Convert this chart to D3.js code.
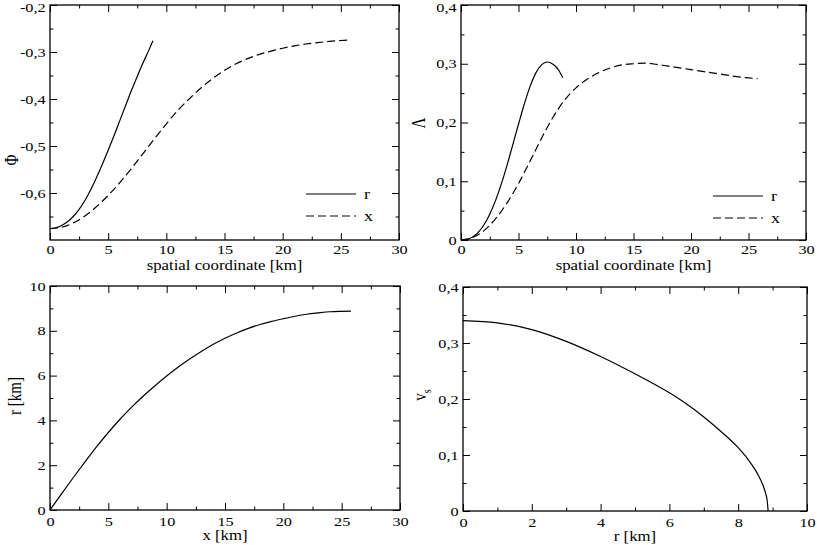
<!DOCTYPE html>
<html>
<head>
<meta charset="utf-8">
<script src="https://cdn.jsdelivr.net/npm/d3@7"></script>
<style>
  body { margin: 0; background: #fff; }
  svg text { font-family: "Liberation Serif", "Times New Roman", serif; fill: #000; }
</style>
</head>
<body>
<div id="chart"></div>
<script>
// Spatial coordinate grids [km] along r and along x.
var rGrid = [0, 0.5, 1, 1.5, 2, 2.5, 3, 3.5, 4, 4.5, 5, 5.5, 6, 6.5, 7, 7.5, 8, 8.5, 8.85];
var xGrid = [0, 1, 2, 3, 4, 5, 6, 7, 8, 9, 10, 11, 12, 13, 14, 15, 16, 17, 18, 19, 20,
  21, 22, 23, 24, 25, 25.8];

// Phi, read along r (solid) and along x (dashed).
var phiR = [-0.676, -0.674, -0.669, -0.661, -0.650, -0.635, -0.616, -0.593, -0.567, -0.539,
  -0.509, -0.478, -0.446, -0.414, -0.382, -0.352, -0.323, -0.296, -0.276];
var phiX = [-0.676, -0.673, -0.664, -0.649, -0.629, -0.605, -0.578, -0.548, -0.516, -0.484,
  -0.453, -0.424, -0.399, -0.376, -0.356, -0.339, -0.325, -0.314, -0.305, -0.298, -0.292,
  -0.287, -0.283, -0.280, -0.2775, -0.2755, -0.2745];

// Lambda, read along r (solid) and along x (dashed).
var lambdaR = [0, 0.001, 0.005, 0.013, 0.026, 0.044, 0.067, 0.095, 0.127, 0.162, 0.197,
  0.231, 0.261, 0.284, 0.298, 0.303, 0.299, 0.289, 0.276];
var lambdaX = [0, 0.004, 0.016, 0.036, 0.063, 0.096, 0.134, 0.173, 0.209, 0.238, 0.259,
  0.274, 0.285, 0.293, 0.298, 0.300, 0.301, 0.299, 0.296, 0.293, 0.290, 0.287, 0.284,
  0.281, 0.278, 0.276, 0.2745];

// r as a function of x [km].
var rOfX = [0, 0.73, 1.45, 2.15, 2.83, 3.46, 4.05, 4.59, 5.09, 5.55, 5.98, 6.38, 6.75,
  7.09, 7.40, 7.67, 7.905, 8.11, 8.28, 8.42, 8.54, 8.65, 8.74, 8.80, 8.85, 8.87, 8.88];

// v_s as a function of r [km].
var vsGrid = [0, 1, 2, 3, 4, 5, 6, 6.5, 7, 7.5, 8, 8.3, 8.5, 8.6, 8.7, 8.75, 8.8, 8.84, 8.87];
var vsValues = [0.340, 0.336, 0.324, 0.303, 0.276, 0.245, 0.211, 0.191, 0.168, 0.142,
  0.113, 0.091, 0.073, 0.062, 0.049, 0.041, 0.031, 0.020, 0];

// Tick values.
var spatialTicks = [0, 5, 10, 15, 20, 25, 30];
var spatialMinor = [2.5, 7.5, 12.5, 17.5, 22.5, 27.5];
var phiTicks = [-0.6, -0.5, -0.4, -0.3, -0.2];
var phiMinor = [-0.65, -0.55, -0.45, -0.35, -0.25];
var lambdaTicks = [0, 0.1, 0.2, 0.3, 0.4];
var lambdaMinor = [0.05, 0.15, 0.25, 0.35];
var radiusTicks = [0, 2, 4, 6, 8, 10];
var radiusMinor = [1, 3, 5, 7, 9];

// The source picture is stretched sideways, so all text is too.
var TICK_STRETCH = 'scale(1.25,1)';
var TEXT_STRETCH = 'scale(1.2,1)';

function commaFormat(d) {
  if (d === 0) return '0';
  return d3.format('.1f')(d).replace('.', ',').replace('\u2212', '-');
}
function intFormat(d) { return String(d); }

var svg = d3.select('#chart').append('svg')
  .attr('width', 817)
  .attr('height', 545);

// Draws one framed panel with inward ticks on all four sides.
function panel(p) {
  var w = p.right - p.left,
    h = p.bottom - p.top;
  var g = svg.append('g').attr('transform', 'translate(' + p.left + ',' + p.top + ')');

  var x = d3.scaleLinear().domain(p.xDomain).range([0, w]);
  var y = d3.scaleLinear().domain(p.yDomain).range([h, 0]);

  // Major and minor ticks, inward, on every side.
  function ticks(axis, scale, values, size, fmt, pad, translate) {
    var a = g.append('g')
      .attr('transform', translate)
      .call(axis(scale).tickValues(values).tickSizeInner(-size).tickSizeOuter(0)
        .tickPadding(pad).tickFormat(fmt || ''));
    a.select('.domain').remove();
    a.selectAll('.tick line').attr('stroke', '#000').attr('stroke-width', 1);
    return a;
  }
  var base = 'translate(0,' + h + ')',
    side = 'translate(' + w + ',0)';
  var bottom = ticks(d3.axisBottom, x, p.xTicks, 7, p.xFormat, p.xPad, base);
  ticks(d3.axisBottom, x, p.xMinor, 3.5, null, 0, base);
  ticks(d3.axisTop, x, p.xTicks, 7, null, 0, 'translate(0,0)');
  ticks(d3.axisTop, x, p.xMinor, 3.5, null, 0, 'translate(0,0)');
  var left = ticks(d3.axisLeft, y, p.yTicks, 7, p.yFormat, 3.5, 'translate(0,0)');
  ticks(d3.axisLeft, y, p.yMinor, 3.5, null, 0, 'translate(0,0)');
  ticks(d3.axisRight, y, p.yTicks, 7, null, 0, side);
  ticks(d3.axisRight, y, p.yMinor, 3.5, null, 0, side);

  bottom.selectAll('.tick text').attr('font-size', 13).attr('transform', TICK_STRETCH);
  left.selectAll('.tick text').attr('font-size', 13).attr('transform', TICK_STRETCH);
  // The top label sits a little lower so it stays inside the page.
  left.selectAll('.tick')
    .filter(function (d) { return y(d) + p.top < 8; })
    .select('text')
    .attr('dy', '0.5em');

  // Frame.
  g.append('rect')
    .attr('width', w)
    .attr('height', h)
    .attr('fill', 'none')
    .attr('stroke', '#000')
    .attr('stroke-width', 1.3);

  // Curves.
  var line = d3.line()
    .x(function (d) { return x(d[0]); })
    .y(function (d) { return y(d[1]); })
    .curve(d3.curveMonotoneX);
  p.series.forEach(function (s) {
    g.append('path')
      .datum(d3.zip(s.xs, s.ys))
      .attr('d', line)
      .attr('fill', 'none')
      .attr('stroke', '#000')
      .attr('stroke-width', 1.2)
      .attr('stroke-dasharray', s.dash ? '8,4' : null);
  });

  // Legend, bottom right.
  if (p.legend) {
    p.series.forEach(function (s, i) {
      var ly = p.legendY + i * 22;
      g.append('line')
        .attr('x1', w - 93).attr('x2', w - 43)
        .attr('y1', ly).attr('y2', ly)
        .attr('stroke', '#000')
        .attr('stroke-width', 1.2)
        .attr('stroke-dasharray', s.dash ? '8,4' : null);
      g.append('text')
        .attr('transform', 'translate(' + (w - 35) + ',' + (ly + 4.5) + ') ' + TEXT_STRETCH)
        .attr('font-size', 15)
        .text(s.name);
    });
  }

  // Axis titles.
  g.append('text')
    .attr('transform', 'translate(' + (w / 2) + ',' + (h + p.xTitleGap) + ') ' + TEXT_STRETCH)
    .attr('text-anchor', 'middle')
    .attr('font-size', 14)
    .text(p.xTitle);

  var yt = g.append('text')
    .attr('transform', 'translate(' + p.yTitleX + ',' + p.yTitleY + ') ' + TEXT_STRETCH + ' rotate(-90)')
    .attr('text-anchor', 'middle')
    .attr('dy', '0.35em')
    .attr('font-size', 15)
    .text(p.yTitle);
  if (p.ySub) {
    yt.append('tspan')
      .attr('font-size', 10)
      .attr('dy', '0.35em')
      .text(p.ySub);
  }
}

panel({
  left: 50, top: 5, right: 399, bottom: 240, xPad: 5,
  xDomain: [0, 30], yDomain: [-0.7, -0.2],
  xTicks: spatialTicks, xMinor: spatialMinor, xFormat: intFormat,
  yTicks: phiTicks, yMinor: phiMinor, yFormat: commaFormat,
  series: [
    { name: 'r', xs: rGrid, ys: phiR, dash: false },
    { name: 'x', xs: xGrid, ys: phiX, dash: true }
  ],
  legend: true, legendY: 189,
  xTitle: 'spatial coordinate [km]', xTitleGap: 30,
  yTitle: '\u03A6', yTitleX: -38, yTitleY: 155
});

panel({
  left: 461, top: 5, right: 806, bottom: 240, xPad: 5,
  xDomain: [0, 30], yDomain: [0, 0.4],
  xTicks: spatialTicks, xMinor: spatialMinor, xFormat: intFormat,
  yTicks: lambdaTicks, yMinor: lambdaMinor, yFormat: commaFormat,
  series: [
    { name: 'r', xs: rGrid, ys: lambdaR, dash: false },
    { name: 'x', xs: xGrid, ys: lambdaX, dash: true }
  ],
  legend: true, legendY: 191,
  xTitle: 'spatial coordinate [km]', xTitleGap: 30,
  yTitle: '\u039B', yTitleX: -42, yTitleY: 118
});

panel({
  left: 50, top: 286, right: 400, bottom: 510, xPad: 6.5,
  xDomain: [0, 30], yDomain: [0, 10],
  xTicks: spatialTicks, xMinor: spatialMinor, xFormat: intFormat,
  yTicks: radiusTicks, yMinor: radiusMinor, yFormat: intFormat,
  series: [
    { name: 'r', xs: xGrid, ys: rOfX, dash: false }
  ],
  legend: false,
  xTitle: 'x [km]', xTitleGap: 30,
  yTitle: 'r [km]', yTitleX: -35, yTitleY: 110
});

panel({
  left: 463, top: 287, right: 807, bottom: 511, xPad: 6.5,
  xDomain: [0, 10], yDomain: [0, 0.4],
  xTicks: radiusTicks, xMinor: radiusMinor, xFormat: intFormat,
  yTicks: lambdaTicks, yMinor: lambdaMinor, yFormat: commaFormat,
  series: [
    { name: 'vs', xs: vsGrid, ys: vsValues, dash: false }
  ],
  legend: false,
  xTitle: 'r [km]', xTitleGap: 30,
  yTitle: 'v', ySub: 's', yTitleX: -43, yTitleY: 108
});
</script>
</body>
</html>
